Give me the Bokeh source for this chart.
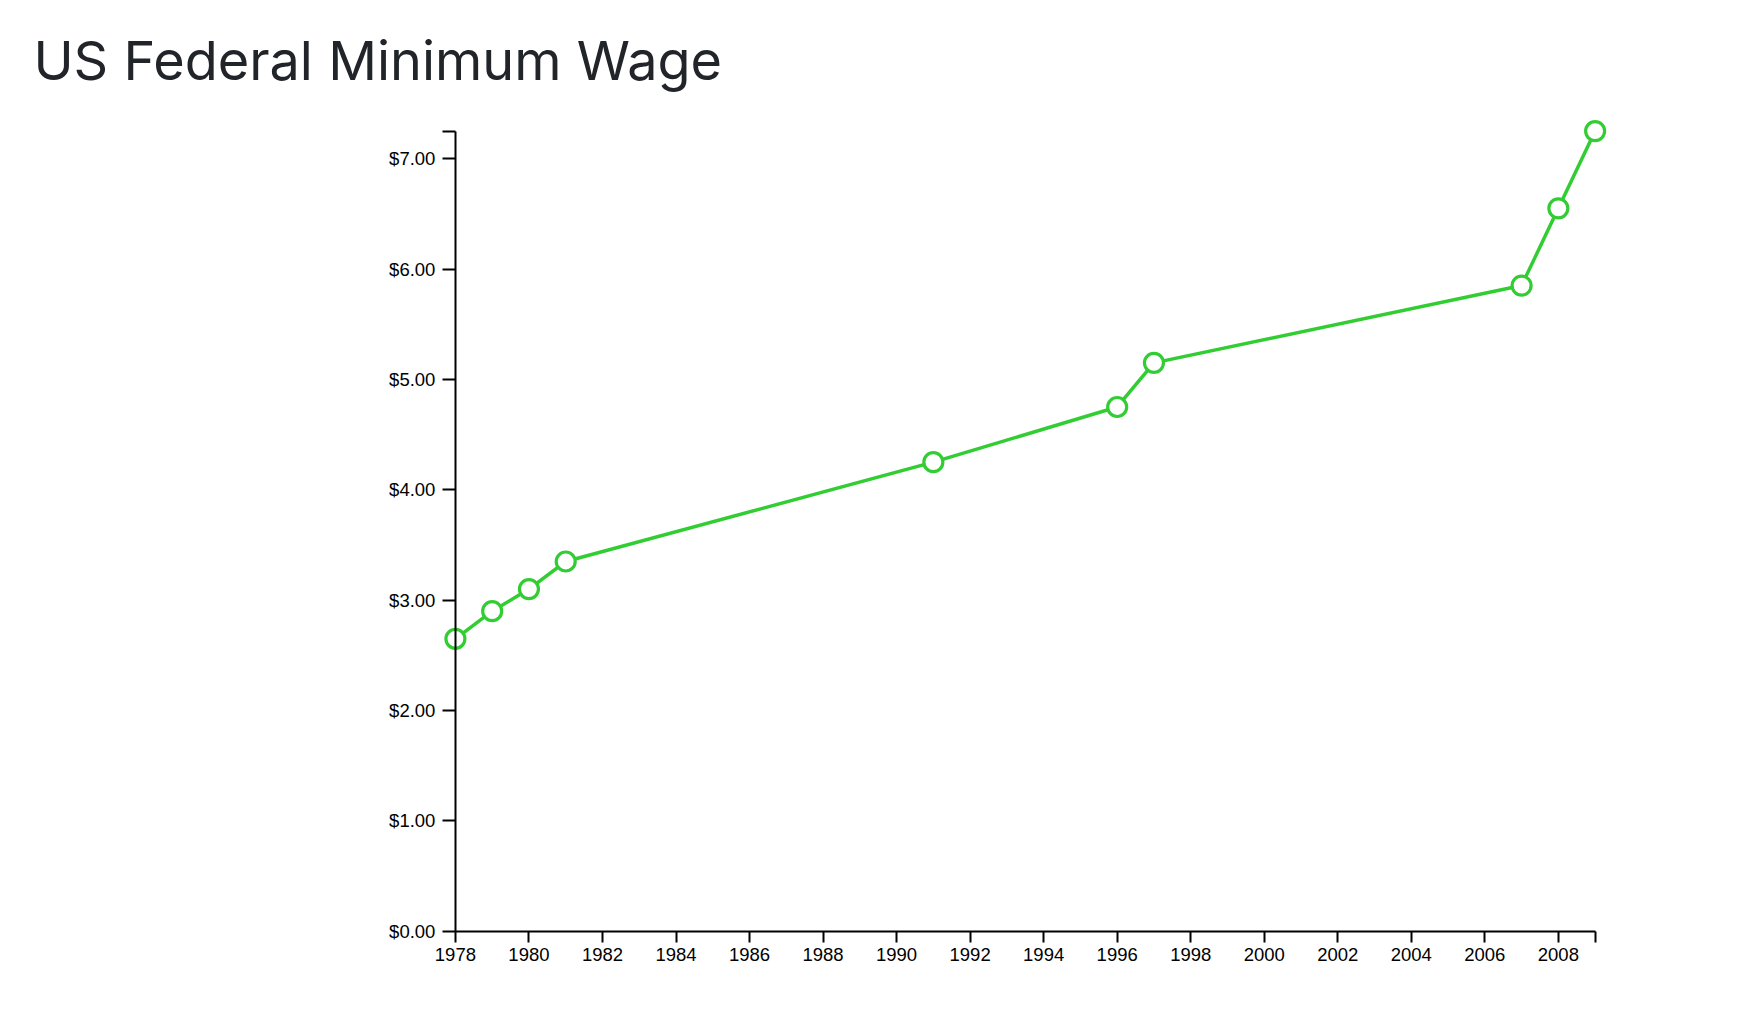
from bokeh.plotting import figure
from bokeh.models import (Range1d, FixedTicker, NumeralTickFormatter,
                          BasicTickFormatter, Title, ColumnDataSource)
from bokeh.embed import file_html
from bokeh.resources import INLINE

# US federal minimum wage at each change (year, dollars per hour)
years = [1978, 1979, 1980, 1981, 1991, 1996, 1997, 2007, 2008, 2009]
wages = [2.65, 2.90, 3.10, 3.35, 4.25, 4.75, 5.15, 5.85, 6.55, 7.25]

x_ticks = list(range(1978, 2009, 2)) + [2009]
y_ticks = [0, 1, 2, 3, 4, 5, 6, 7, 7.25]

GREEN = "#32cd32"
TICK_FONT = "Liberation Sans"

# the frame is wider than the data domain so the axis labels, drawn at
# fixed locations, sit inside it; 36.77 px per year, 110.34 px per dollar
X0, X1 = 1975.5, 2009.5
Y0, Y1 = -0.6, 7.4
PX_YEAR, PX_DOLLAR = 36.77, 110.34
left = 455 - (1978 - X0) * PX_YEAR
right = 1750 - (455 + (X1 - 1978) * PX_YEAR)
top = 930.7 - Y1 * PX_DOLLAR
bottom = 1014 - (930.7 - Y0 * PX_DOLLAR)

p = figure(
    width=1750, height=1014,
    x_range=Range1d(X0, X1),
    y_range=Range1d(Y0, Y1),
    output_backend="svg", toolbar_location=None, title=None,
    min_border_left=int(round(left)), min_border_right=int(round(right)),
    min_border_top=int(round(top)), min_border_bottom=int(round(bottom)),
)
p.outline_line_color = None
p.grid.visible = False
p.background_fill_color = "white"
p.border_fill_color = "white"

src = ColumnDataSource(dict(year=years, wage=wages))
p.line("year", "wage", source=src, line_color=GREEN, line_width=3.5)
p.scatter("year", "wage", source=src, size=19, marker="circle",
          fill_color="white", line_color=GREEN, line_width=3.2)

# x axis: every second year, plus an end tick at the domain edge
xa = p.xaxis[0]
xa.fixed_location = 0
xa.bounds = (1978, 2009)
xa.ticker = FixedTicker(ticks=x_ticks)
xa.formatter = BasicTickFormatter(use_scientific=False)
xa.major_label_overrides = {2009: ""}
xa.minor_tick_line_color = None
xa.axis_line_color = "black"
xa.axis_line_width = 2
xa.major_tick_line_color = "black"
xa.major_tick_line_width = 2
xa.major_tick_out = 11
xa.major_tick_in = 0
xa.major_label_standoff = 6
xa.major_label_text_font = TICK_FONT
xa.major_label_text_font_size = "18.5px"
xa.major_label_text_color = "black"

# y axis: whole dollars, plus an end tick at the top of the domain
ya = p.yaxis[0]
ya.fixed_location = 1978
ya.bounds = (0, 7.25)
ya.ticker = FixedTicker(ticks=y_ticks)
ya.formatter = NumeralTickFormatter(format="$0.00")
ya.major_label_overrides = {7.25: ""}
ya.minor_tick_line_color = None
ya.axis_line_color = "black"
ya.axis_line_width = 2
ya.major_tick_line_color = "black"
ya.major_tick_line_width = 2
ya.major_tick_out = 13
ya.major_tick_in = 0
ya.major_label_standoff = 7
ya.major_label_text_font = TICK_FONT
ya.major_label_text_font_size = "18.5px"
ya.major_label_text_color = "black"

title = Title(text="US Federal Minimum Wage", align="left",
              text_font="Inter", text_font_size="54px",
              text_font_style="normal", text_color="#212529",
              offset=-(left - 33), standoff=44)
p.add_layout(title, "above")

open("out.html", "w").write(file_html(p, INLINE))
